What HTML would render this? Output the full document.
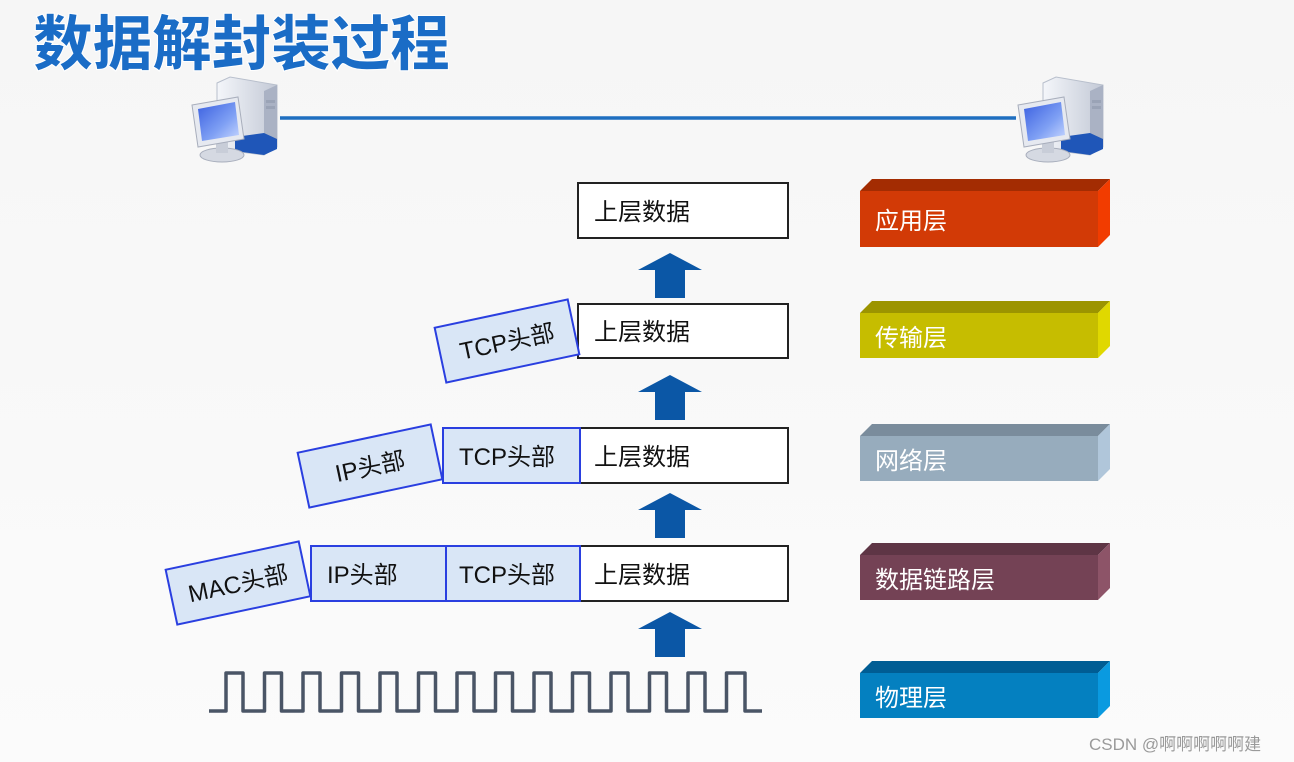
<!DOCTYPE html>
<html><head><meta charset="utf-8"><style>
html,body{margin:0;padding:0;background:#fafafa;}
svg{display:block;}
text{font-family:"Liberation Sans","Noto Sans CJK SC",sans-serif;}
</style></head><body>
<svg width="1294" height="762" viewBox="0 0 1294 762" xmlns="http://www.w3.org/2000/svg">
<defs>
<linearGradient id="bg" x1="0" y1="0" x2="0" y2="1"><stop offset="0" stop-color="#f6f6f6"/><stop offset="1" stop-color="#fbfbfb"/></linearGradient>
<linearGradient id="scr" x1="0" y1="0" x2="1" y2="1"><stop offset="0" stop-color="#3a5fe0"/><stop offset="0.6" stop-color="#7fa0f4"/><stop offset="1" stop-color="#c8d8ff"/></linearGradient>
<linearGradient id="tw" x1="0" y1="0" x2="1" y2="0"><stop offset="0" stop-color="#f4f6fa"/><stop offset="1" stop-color="#c3c9d6"/></linearGradient>
<g id="pc">
<path d="M37 8 L50 2 L97 10 L97 72 L84 80 L37 74 Z" fill="url(#tw)" stroke="#b8bfcc"/>
<path d="M84 16 L97 10 L97 72 L84 80 Z" fill="#aab2c4"/>
<rect x="86" y="25" width="9" height="3" fill="#9aa3b6"/><rect x="86" y="31" width="9" height="3" fill="#9aa3b6"/>
<path d="M55 62 L84 58 L97 64 L97 74 L84 80 L55 76 Z" fill="#1f56b8"/>
<ellipse cx="42" cy="80" rx="22" ry="7" fill="#d5d9e2" stroke="#a8aebc"/>
<rect x="36" y="66" width="12" height="12" fill="#c8cdd8"/>
<path d="M12 30 L58 22 L64 64 L18 72 Z" fill="#e6e9f0" stroke="#a8aebc"/>
<path d="M18 34 L55 27 L59 60 L22 66 Z" fill="url(#scr)"/>
</g>
</defs>
<rect width="1294" height="762" fill="url(#bg)"/>
<text x="33" y="65" font-size="60" font-weight="900" fill="#1a6cc6" stroke="#ffffff" stroke-width="1" style="font-family:'Noto Sans CJK SC',sans-serif;letter-spacing:-0.5px">数据解封装过程</text>

<use href="#pc" transform="translate(180,75)"/>
<use href="#pc" transform="translate(1006,75)"/>
<line x1="280" y1="118" x2="1016" y2="118" stroke="#1f6fc0" stroke-width="3.5"/>

<g fill="#0b57a6">
<path d="M655 298 V270 H638 L670 253 L702 270 H685 V298 Z"/>
<path d="M655 420 V392 H638 L670 375 L702 392 H685 V420 Z"/>
<path d="M655 538 V510 H638 L670 493 L702 510 H685 V538 Z"/>
<path d="M655 657 V629 H638 L670 612 L702 629 H685 V657 Z"/>
</g>

<g font-size="24" fill="#111">
<rect x="578" y="183" width="210" height="55" fill="#fff" stroke="#222" stroke-width="2"/>
<text x="594" y="220">上层数据</text>
<rect x="578" y="304" width="210" height="54" fill="#fff" stroke="#222" stroke-width="2"/>
<text x="594" y="340">上层数据</text>
<rect x="580" y="428" width="208" height="55" fill="#fff" stroke="#222" stroke-width="2"/>
<text x="594" y="465">上层数据</text>
<rect x="580" y="546" width="208" height="55" fill="#fff" stroke="#222" stroke-width="2"/>
<text x="594" y="583">上层数据</text>
</g>
<g font-size="24" fill="#111">
<rect x="443" y="428" width="137" height="55" fill="#d9e6f6" stroke="#2a3fe0" stroke-width="2"/>
<text x="459" y="465">TCP头部</text>
<rect x="311" y="546" width="135" height="55" fill="#d9e6f6" stroke="#2a3fe0" stroke-width="2"/>
<text x="327" y="583">IP头部</text>
<rect x="446" y="546" width="134" height="55" fill="#d9e6f6" stroke="#2a3fe0" stroke-width="2"/>
<text x="459" y="583">TCP头部</text>
<g transform="translate(507,341) rotate(-12)">
<rect x="-68" y="-28" width="136" height="56" fill="#d9e6f6" stroke="#2a3fe0" stroke-width="2"/>
<text x="0" y="9" text-anchor="middle">TCP头部</text></g>
<g transform="translate(370,466) rotate(-12)">
<rect x="-68" y="-28" width="136" height="56" fill="#d9e6f6" stroke="#2a3fe0" stroke-width="2"/>
<text x="0" y="9" text-anchor="middle">IP头部</text></g>
<g transform="translate(238,583) rotate(-12)">
<rect x="-68" y="-28" width="136" height="56" fill="#d9e6f6" stroke="#2a3fe0" stroke-width="2"/>
<text x="0" y="9" text-anchor="middle">MAC头部</text></g>
</g>

<path d="M209 711 H226 V673 H243 V711 H264.5 V673 H281.5 V711 H303 V673 H320 V711 H341.5 V673 H358.5 V711 H380 V673 H397 V711 H418.5 V673 H435.5 V711 H457 V673 H474 V711 H495.5 V673 H512.5 V711 H534 V673 H551 V711 H572.5 V673 H589.5 V711 H611 V673 H628 V711 H649.5 V673 H666.5 V711 H688 V673 H705 V711 H726.5 V673 H745 V711 H762" fill="none" stroke="#4a5566" stroke-width="3.5" stroke-linejoin="round"/>

<g font-size="24" fill="#fff">
<path d="M860 191 L872 179 L1110 179 L1098 191 Z" fill="#a32c02"/>
<path d="M1098 191 L1110 179 L1110 235 L1098 247 Z" fill="#f23c00"/>
<rect x="860" y="191" width="238" height="56" fill="#d23a06"/>
<text x="875" y="229">应用层</text>

<path d="M860 313 L872 301 L1110 301 L1098 313 Z" fill="#9c9400"/>
<path d="M1098 313 L1110 301 L1110 346 L1098 358 Z" fill="#e0d800"/>
<rect x="860" y="313" width="238" height="45" fill="#c6bd00"/>
<text x="875" y="346">传输层</text>

<path d="M860 436 L872 424 L1110 424 L1098 436 Z" fill="#7a8c9c"/>
<path d="M1098 436 L1110 424 L1110 469 L1098 481 Z" fill="#b0c6da"/>
<rect x="860" y="436" width="238" height="45" fill="#97acbd"/>
<text x="875" y="469">网络层</text>

<path d="M860 555 L872 543 L1110 543 L1098 555 Z" fill="#5e3545"/>
<path d="M1098 555 L1110 543 L1110 588 L1098 600 Z" fill="#8d5468"/>
<rect x="860" y="555" width="238" height="45" fill="#744255"/>
<text x="875" y="588">数据链路层</text>

<path d="M860 673 L872 661 L1110 661 L1098 673 Z" fill="#005d94"/>
<path d="M1098 673 L1110 661 L1110 706 L1098 718 Z" fill="#0a9ae0"/>
<rect x="860" y="673" width="238" height="45" fill="#0480c0"/>
<text x="875" y="706">物理层</text>
</g>

<text x="1089" y="750" font-size="17" fill="#9a9a9a">CSDN @啊啊啊啊啊建</text>
</svg>
</body></html>
